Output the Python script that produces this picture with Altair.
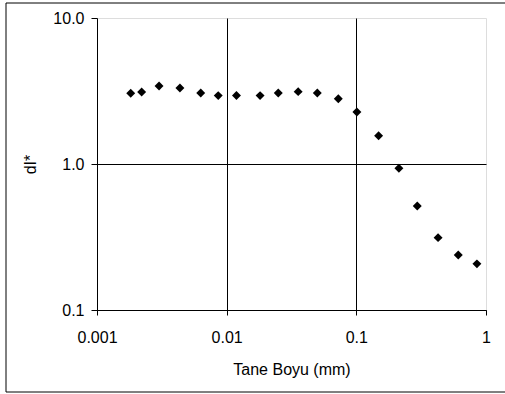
import altair as alt
import pandas as pd

size_mm = [0.00182, 0.00221, 0.00301, 0.00436, 0.00631, 0.00861, 0.0119, 0.0181,
           0.0250, 0.0356, 0.0500, 0.0726, 0.101, 0.1485, 0.213, 0.295, 0.427,
           0.611, 0.851]
di_star = [3.05, 3.11, 3.42, 3.32, 3.06, 2.94, 2.95, 2.94, 3.06, 3.13, 3.06,
           2.80, 2.27, 1.56, 0.935, 0.515, 0.313, 0.238, 0.207]

x_ticks = [0.001, 0.01, 0.1, 1]
y_ticks = [0.1, 1, 10]

df = pd.DataFrame({"x": size_mm, "y": di_star})

FONT = "Liberation Sans"
FS = 16

points = alt.Chart(df).mark_point(
    shape="diamond", filled=True, color="black", size=80, opacity=1
).encode(
    x=alt.X("x:Q", scale=alt.Scale(type="log", domain=[0.001, 1], nice=False),
            axis=alt.Axis(
                values=x_ticks, format="~g", title="Tane Boyu (mm)",
                grid=True,
                gridColor={"condition": {"test": "datum.value > 0.0011 && datum.value < 0.99",
                                         "value": "black"}, "value": "transparent"},
                gridWidth=1,
                domainColor="black", domainWidth=1,
                tickColor="black", tickSize=5, tickWidth=1,
                labelPadding=14, labelFontSize=FS, labelFont=FONT, labelColor="black",
                titleFontSize=FS, titleFont=FONT, titleFontWeight="normal", titleColor="black",
                titleX=194.5, titleY=59, titleBaseline="middle",
                labelFlush=False, labelOverlap=False)),
    y=alt.Y("y:Q", scale=alt.Scale(type="log", domain=[0.1, 10], nice=False),
            axis=alt.Axis(
                values=y_ticks, format=".1f", title="dI*",
                grid=True,
                gridColor={"condition": {"test": "datum.value < 9",
                                         "value": "black"}, "value": "transparent"},
                gridWidth=1,
                domainColor="black", domainWidth=1,
                tickColor="black", tickSize=6, tickWidth=1,
                labelPadding=7, labelFontSize=FS, labelFont=FONT, labelColor="black",
                titleFontSize=FS, titleFont=FONT, titleFontWeight="normal", titleColor="black",
                titleX=-67, titleY=146, titleBaseline="middle", titleAlign="center",
                labelFlush=False, labelOverlap=False)),
)

border = alt.Chart(pd.DataFrame({"a": [0]})).mark_rect(
    fill=None, stroke="black", strokeWidth=1, clip=False
).encode(
    x=alt.value(-91), x2=alt.value(415), y=alt.value(-15), y2=alt.value(374)
)

chart = alt.layer(border, points).properties(
    width=389, height=292,
    autosize=alt.AutoSizeParams(type="none"),
    padding={"left": 97, "top": 18, "right": 19, "bottom": 84},
).configure_view(stroke="#808080", strokeWidth=1).configure(background="white")

chart.save("out.html", embed_options={"renderer": "svg", "actions": False})
